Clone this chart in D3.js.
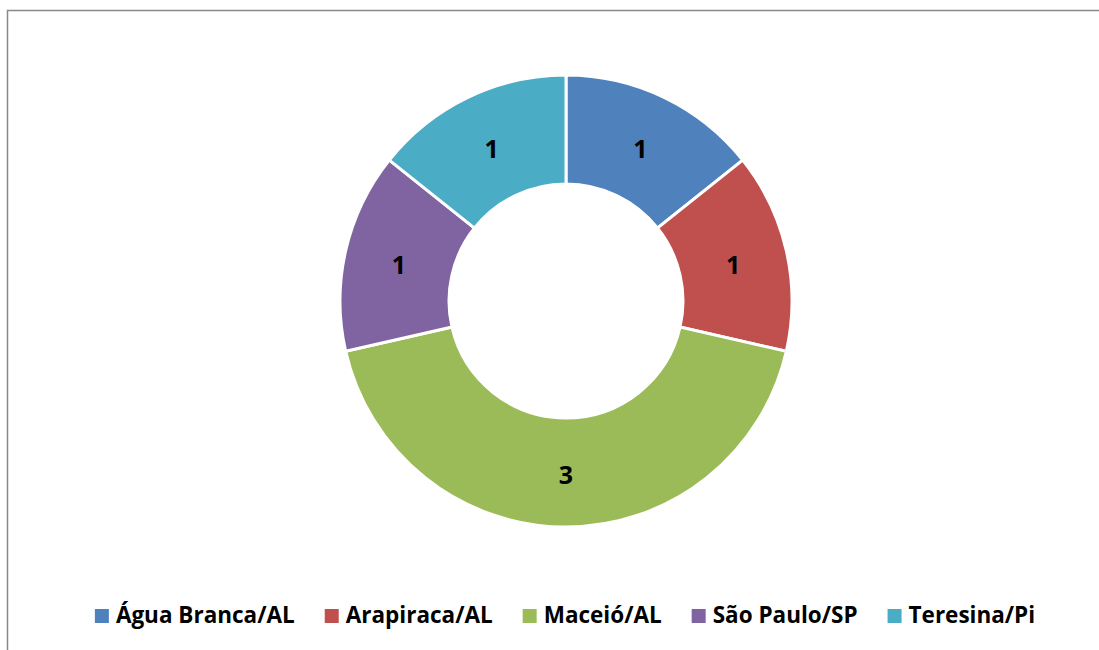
<!DOCTYPE html>
<html>
<head>
<meta charset="utf-8">
<script src="https://cdn.jsdelivr.net/npm/d3@7"></script>
<style>
  body { margin: 0; background: #fff; }
  text { font-family: "Open Sans", "Noto Sans", sans-serif; font-weight: bold; }
</style>
</head>
<body>
<div id="chart"></div>
<script>
// data
const cities = ["Água Branca/AL", "Arapiraca/AL", "Maceió/AL", "São Paulo/SP", "Teresina/Pi"];
const counts = [1, 1, 3, 1, 1];
const colors = ["#4F81BD", "#C0504D", "#9BBB59", "#8064A2", "#4BACC6"];

const width = 1099, height = 650;
const cx = 566, cy = 301;
const outerR = 226, innerR = 117;

const svg = d3.select("#chart").append("svg")
  .attr("width", width)
  .attr("height", height);

// chart frame
svg.append("rect")
  .attr("x", 7.5).attr("y", 10.5)
  .attr("width", 1100).attr("height", 700)
  .attr("fill", "none")
  .attr("stroke", "#898989")
  .attr("stroke-width", 1.5);

const data = cities.map((c, i) => ({ city: c, value: counts[i], color: colors[i] }));

const pie = d3.pie().sort(null).value(d => d.value);
const arc = d3.arc().innerRadius(innerR).outerRadius(outerR);
const labelArc = d3.arc().innerRadius((innerR + outerR) / 2).outerRadius((innerR + outerR) / 2);

const g = svg.append("g").attr("transform", `translate(${cx},${cy})`);

g.selectAll("path")
  .data(pie(data))
  .enter()
  .append("path")
  .attr("d", arc)
  .attr("fill", d => d.data.color)
  .attr("stroke", "#fff")
  .attr("stroke-width", 3);

g.selectAll(".lbl")
  .data(pie(data))
  .enter()
  .append("text")
  .attr("class", "lbl")
  .attr("transform", d => `translate(${labelArc.centroid(d)})`)
  .attr("text-anchor", "middle")
  .attr("dy", "0.45em")
  .attr("font-size", 25)
  .attr("fill", "#000")
  .text(d => d.data.value);

// legend
const legend = svg.append("g");
const items = legend.selectAll("g")
  .data(data)
  .enter()
  .append("g");

items.append("rect")
  .attr("width", 14).attr("height", 14)
  .attr("y", -14)
  .attr("fill", d => d.color);

items.append("text")
  .attr("x", 21)
  .attr("font-size", 22.5)
  .attr("fill", "#000")
  .text(d => d.city);

let x = 0;
items.each(function () {
  const el = d3.select(this);
  el.attr("transform", `translate(${x},0)`);
  x += 21 + el.select("text").node().getComputedTextLength() + 30;
});
const total = x - 30;
legend.attr("transform", `translate(${(93 + 1037) / 2 - total / 2},623)`);
</script>
</body>
</html>
